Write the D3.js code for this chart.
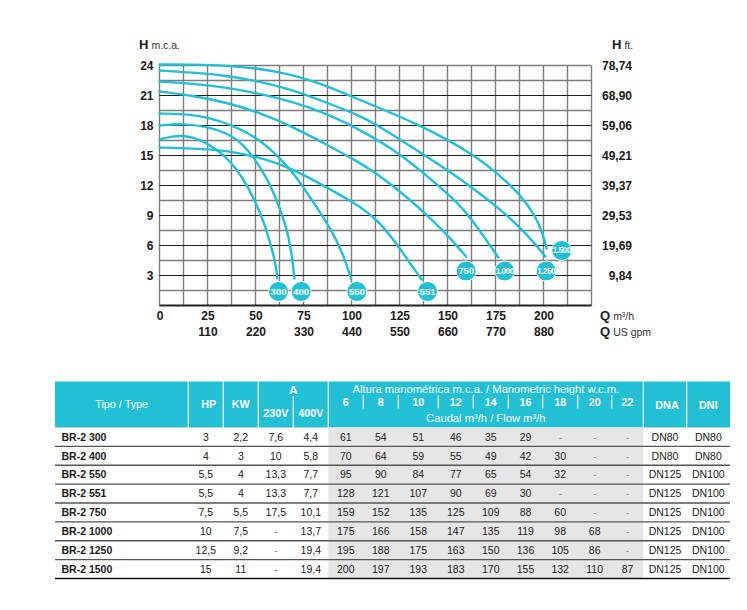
<!DOCTYPE html>
<html>
<head>
<meta charset="utf-8">
<script src="https://cdn.jsdelivr.net/npm/d3@7"></script>
<style>
body{margin:0;background:#fff;}
svg{display:block;font-family:"Liberation Sans",Arial,sans-serif;}
</style>
</head>
<body>
<svg id="chart" width="747" height="610"></svg>
<script>
// axis ticks
var qTicks = [0, 25, 50, 75, 100, 125, 150, 175, 200];
var gpmTicks = ["", "110", "220", "330", "440", "550", "660", "770", "880"];
var hTicks = [3, 6, 9, 12, 15, 18, 21, 24];
var ftTicks = ["9,84", "19,69", "29,53", "39,37", "49,21", "59,06", "68,90", "78,74"];

// pump curves, [Q m3/h, H m.c.a.]
var pumps = ["300", "400", "550", "551", "750", "1.000", "1.250", "1.500"];
var curve300 = [[0,16.6],[6,16.9],[12,17.0],[18,16.8],[25,16.2],[31,15.4],[36,14.6],[43,12.9],[49.5,10.6],[54.7,8.2],[58.2,5.9],[60.8,3.9],[61.3,2.7]];
var curve400 = [[0,18.0],[12,18.2],[25,17.9],[37,17.1],[44,16.0],[49,14.8],[55.6,12.9],[61.6,10.3],[66,7.9],[68.6,5.6],[70.3,2.7]];
var curve550 = [[0,19.2],[17,19.1],[25,18.8],[37,18.1],[50,16.9],[62,14.9],[69,13.4],[74,12.1],[81.6,9.9],[89.4,7.6],[95.5,5.2],[99.8,2.7]];
var curve551 = [[0,15.8],[17,15.7],[35,15.5],[50,14.9],[62,14.2],[75,13.1],[90,11.5],[100,10.4],[108,9.4],[115,8.2],[121,6.8],[127,5.2],[132,3.8],[136.6,2.6]];
var curve750 = [[0,21.4],[17,21.0],[35,20.3],[52,19.3],[69,17.9],[87,16.1],[104,14.3],[110,13.6],[127,11.2],[144,8.2],[152,6.6],[159.7,4.9]];
var curve1000 = [[0,22.4],[17,22.2],[35,21.8],[52,21.2],[69,20.4],[87,19.2],[104,17.6],[115,16.4],[127,14.9],[144,12.2],[155,10.3],[161.5,8.9],[170,6.6],[176.5,4.8]];
var curve1250 = [[0,23.5],[17,23.3],[35,23.0],[52,22.4],[69,21.6],[87,20.3],[104,19.0],[110,18.4],[127,16.4],[144,14.3],[161.5,12.0],[179,9.4],[191,7.2],[201,4.9]];
var curve1500 = [[0,24.1],[17,24.1],[35,24.0],[52,23.7],[69,23.1],[82,22.3],[94,21.4],[104,20.6],[112,19.95],[122,19.15],[135,18.05],[150,16.6],[163,15.1],[175,13.4],[187.5,11.2],[196,8.9],[199.6,7.2],[201.6,5.7]];
var labelQ = [62, 73.8, 102.8, 139.6, 159.7, 179.8, 201.4, 209.5];
var labelH = [1.4, 1.4, 1.4, 1.4, 3.45, 3.45, 3.45, 5.5];

// table
var models = ["BR-2 300", "BR-2 400", "BR-2 550", "BR-2 551", "BR-2 750", "BR-2 1000", "BR-2 1250", "BR-2 1500"];
var hp = ["3", "4", "5,5", "5,5", "7,5", "10", "12,5", "15"];
var kw = ["2,2", "3", "4", "4", "5,5", "7,5", "9,2", "11"];
var amp230 = ["7,6", "10", "13,3", "13,3", "17,5", "-", "-", "-"];
var amp400 = ["4,4", "5,8", "7,7", "7,7", "10,1", "13,7", "19,4", "19,4"];
var heights = [6, 8, 10, 12, 14, 16, 18, 20, 22];
var flows = [
    [61, 54, 51, 46, 35, 29, null, null, null],
    [70, 64, 59, 55, 49, 42, 30, null, null],
    [95, 90, 84, 77, 65, 54, 32, null, null],
    [128, 121, 107, 90, 69, 30, null, null, null],
    [159, 152, 135, 125, 109, 88, 60, null, null],
    [175, 166, 158, 147, 135, 119, 98, 68, null],
    [195, 188, 175, 163, 150, 136, 105, 86, null],
    [200, 197, 193, 183, 170, 155, 132, 110, 87]
];
var dna = ["DN80", "DN80", "DN125", "DN125", "DN125", "DN125", "DN125", "DN125"];
var dni = ["DN80", "DN80", "DN100", "DN100", "DN100", "DN100", "DN100", "DN100"];

var CYAN = "#22bfd5";
var svg = d3.select("#chart");

// ---------- chart ----------
var x = d3.scaleLinear().domain([0, 225]).range([159.5, 591.5]);
var y = d3.scaleLinear().domain([0, 24]).range([305.5, 65.5]);

var grid = svg.append("g");
grid.selectAll("line.v")
    .data(d3.range(0, 225.1, 12.5))
    .enter().append("line")
    .attr("x1", function(d){return x(d)}).attr("x2", function(d){return x(d)})
    .attr("y1", y(24)).attr("y2", y(0))
    .attr("stroke", "#7d7d7d").attr("stroke-width", 1.4);
grid.selectAll("line.h")
    .data(d3.range(1.5, 24.1, 1.5))
    .enter().append("line")
    .attr("x1", x(0)).attr("x2", x(225))
    .attr("y1", function(d){return y(d)}).attr("y2", function(d){return y(d)})
    .attr("stroke", function(d){return (d % 3 === 0 && d < 24) ? "#1e1e1e" : "#7d7d7d"})
    .attr("stroke-width", function(d){return (d % 3 === 0 && d < 24) ? 1.2 : 1.4});
grid.append("line")
    .attr("x1", x(0)).attr("x2", x(225)).attr("y1", y(0)).attr("y2", y(0))
    .attr("stroke", "#222").attr("stroke-width", 1.8);

var line = d3.line()
    .x(function(d){return x(d[0])})
    .y(function(d){return y(d[1])})
    .curve(d3.curveBasis);

var curves = [curve300, curve400, curve550, curve551, curve750, curve1000, curve1250, curve1500];
svg.append("g").selectAll("path")
    .data(curves)
    .enter().append("path")
    .attr("d", line)
    .attr("fill", "none")
    .attr("stroke", CYAN)
    .attr("stroke-width", 2.4)
    .attr("stroke-linecap", "round");

var tags = svg.append("g").selectAll("g")
    .data(pumps)
    .enter().append("g")
    .attr("transform", function(d, i){return "translate(" + x(labelQ[i]) + "," + y(labelH[i]) + ")"});
tags.append("circle")
    .attr("r", 10)
    .attr("fill", CYAN)
    .attr("stroke", "#fff").attr("stroke-width", 1);
tags.append("text")
    .attr("text-anchor", "middle")
    .attr("dy", "0.36em")
    .attr("fill", "#fff")
    .attr("font-weight", "bold")
    .attr("font-size", function(d){return d.length > 3 ? 8.2 : 9.5})
    .attr("letter-spacing", function(d){return d.length > 3 ? -0.5 : 0})
    .text(function(d){return d});

// axes
function styleAxis(g){
    g.select(".domain").remove();
    g.selectAll("text")
        .attr("font-family", "Liberation Sans, Arial, sans-serif")
        .attr("font-size", 12)
        .attr("font-weight", "bold")
        .attr("fill", "#1a1a1a");
}
svg.append("g")
    .attr("transform", "translate(" + x(0) + ",0)")
    .call(d3.axisLeft(y).tickValues(hTicks).tickSize(0).tickPadding(6))
    .call(styleAxis);
svg.append("g")
    .attr("transform", "translate(638,0)")
    .call(d3.axisLeft(y).tickValues(hTicks).tickSize(0).tickPadding(6)
        .tickFormat(function(d, i){return ftTicks[i]}))
    .call(styleAxis);
svg.append("g")
    .attr("transform", "translate(0," + y(0) + ")")
    .call(d3.axisBottom(x).tickValues(qTicks).tickSize(0).tickPadding(5.5))
    .call(styleAxis);
svg.append("g")
    .attr("transform", "translate(0," + y(0) + ")")
    .call(d3.axisBottom(x).tickValues(qTicks).tickSize(0).tickPadding(21.5)
        .tickFormat(function(d, i){return gpmTicks[i]}))
    .call(styleAxis);

function unitLabel(px, py, big, small){
    var t = svg.append("text").attr("x", px).attr("y", py).attr("fill", "#1a1a1a");
    t.append("tspan").attr("font-weight", "bold").attr("font-size", 13).text(big);
    t.append("tspan").attr("font-size", 10.5).attr("fill", "#333").attr("dx", 3).text(small);
}
unitLabel(139, 48.5, "H", "m.c.a.");
unitLabel(612, 48.5, "H", "ft.");
unitLabel(600, 320, "Q", "m\u00b3/h");
unitLabel(600, 336, "Q", "US gpm");

// ---------- table ----------
var cols = [55, 188.3, 223.3, 258.3, 293.3, 328.3, 363.3, 398.3, 438.3, 473.3, 508.3, 542.7, 577.7, 611.7, 643.3, 686.7, 730];
function mid(i){return (cols[i] + cols[i + 1]) / 2}
var headTop = 381.5, headBottom = 427.5;
var row = d3.scaleBand().domain(models).range([headBottom, 578.5]);

var table = svg.append("g");
table.append("rect")
    .attr("x", cols[0]).attr("y", headTop)
    .attr("width", cols[16] - cols[0]).attr("height", headBottom - headTop)
    .attr("fill", CYAN);
table.append("rect")
    .attr("x", cols[5]).attr("y", headBottom)
    .attr("width", cols[14] - cols[5]).attr("height", row.range()[1] - headBottom)
    .attr("fill", "#e6e6e7");

// header separators
[1, 2, 3, 5, 14, 15].forEach(function(i){
    table.append("line")
        .attr("x1", cols[i]).attr("x2", cols[i]).attr("y1", headTop).attr("y2", headBottom)
        .attr("stroke", "#fff").attr("stroke-width", 1.2);
});
table.append("line")
    .attr("x1", cols[4]).attr("x2", cols[4]).attr("y1", 396).attr("y2", headBottom)
    .attr("stroke", "#fff").attr("stroke-width", 1.2);
d3.range(6, 14).forEach(function(i){
    table.append("line")
        .attr("x1", cols[i]).attr("x2", cols[i]).attr("y1", 395).attr("y2", 408.5)
        .attr("stroke", "#fff").attr("stroke-width", 1.2);
});

function headText(px, py, txt, bold, size){
    table.append("text")
        .attr("x", px).attr("y", py).attr("dy", "0.35em")
        .attr("text-anchor", "middle")
        .attr("fill", "#fff")
        .attr("font-size", size || 10.8)
        .attr("font-weight", bold ? "bold" : "normal")
        .text(txt);
}
headText(mid(0), 404.5, "Tipo / Type", false);
headText(mid(1) + 3, 404.5, "HP", true);
headText(mid(2), 404.5, "KW", true);
headText(cols[4], 389.5, "A", true, 11.5);
headText(mid(3), 413.5, "230V", true);
headText(mid(4), 413.5, "400V", true);
headText((cols[5] + cols[14]) / 2, 389, "Altura manom\u00e9trica m.c.a. / Manometric height w.c.m.", false, 11.2);
heights.forEach(function(h, i){headText(mid(5 + i), 402, h, true)});
headText((cols[5] + cols[14]) / 2, 418.5, "Caudal m\u00b3/h / Flow m\u00b3/h", false, 11.2);
headText(mid(14) + 2, 405, "DNA", true);
headText(mid(15), 405, "DNI", true);

// rows
var rows = table.selectAll("g.row")
    .data(models)
    .enter().append("g")
    .attr("transform", function(d){return "translate(0," + (row(d) + row.bandwidth() / 2) + ")"});
rows.append("text")
    .attr("x", 61.5).attr("dy", "0.35em")
    .attr("font-size", 10.5).attr("font-weight", "bold").attr("fill", "#1a1a1a")
    .text(function(d){return d});
rows.each(function(d, r){
    var cells = [hp[r], kw[r], amp230[r], amp400[r]]
        .concat(flows[r].map(function(v){return v === null ? "-" : v}))
        .concat([dna[r], dni[r]]);
    d3.select(this).selectAll("text.cell")
        .data(cells)
        .enter().append("text")
        .attr("x", function(v, i){return mid(i + 1)})
        .attr("dy", "0.35em")
        .attr("text-anchor", "middle")
        .attr("font-size", 10.5)
        .attr("fill", function(v){return v === "-" ? "#8a8a8a" : "#1a1a1a"})
        .text(function(v){return v});
});
table.selectAll("line.sep")
    .data(models)
    .enter().append("line")
    .attr("x1", cols[0]).attr("x2", cols[16])
    .attr("y1", function(d){return row(d) + row.bandwidth()})
    .attr("y2", function(d){return row(d) + row.bandwidth()})
    .attr("stroke", function(d, i){return i === models.length - 1 ? "#111" : "#555"})
    .attr("stroke-width", 1.3);
</script>
</body>
</html>
